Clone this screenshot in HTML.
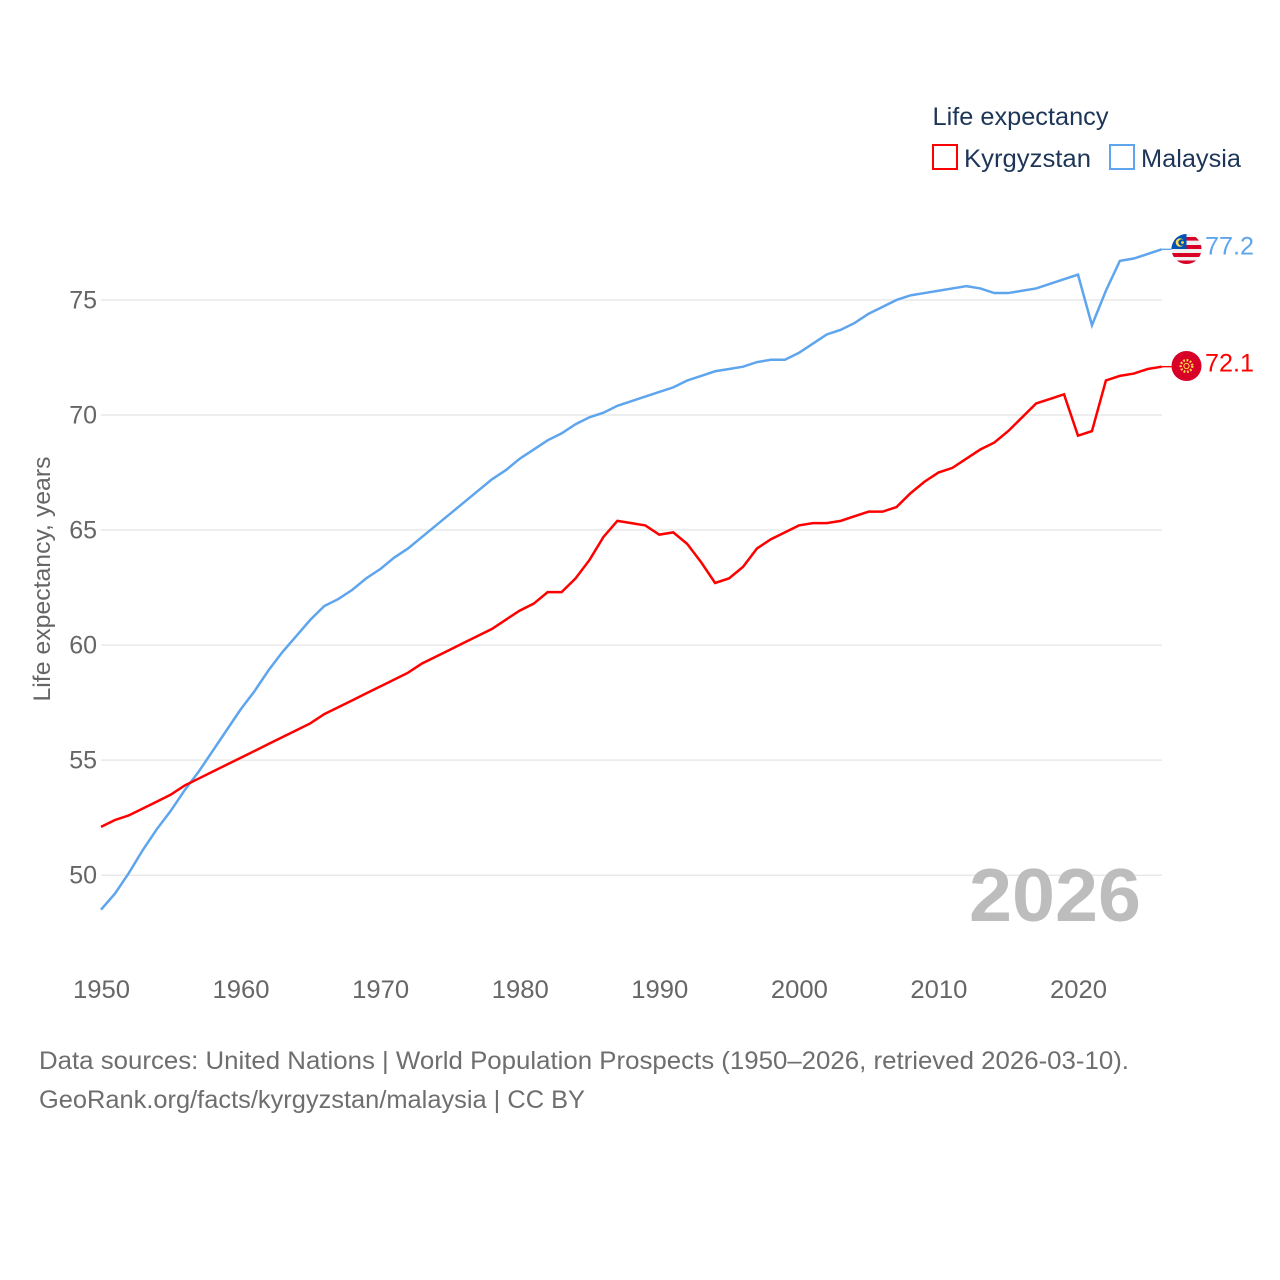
<!DOCTYPE html>
<html lang="en">
<head>
<meta charset="utf-8">
<title>Life expectancy: Kyrgyzstan vs Malaysia</title>
<style>
html,body{margin:0;padding:0;background:#fff}
svg{display:block;font-family:"Liberation Sans",sans-serif}
</style>
</head>
<body>
<svg id="chart" width="1280" height="1280" viewBox="0 0 1280 1280" xmlns="http://www.w3.org/2000/svg">
  <defs>
    <clipPath id="flag-clip-my"><circle cx="1186.5" cy="249" r="15"/></clipPath>
  </defs>
  <g id="grid"></g>
  <g id="yticks"></g>
  <g id="xticks"></g>
  <text x="0" y="0" transform="translate(50,579) rotate(-90)" text-anchor="middle" font-size="24" fill="#666666" textLength="245" lengthAdjust="spacingAndGlyphs">Life expectancy, years</text>
  <text x="969" y="921" font-size="75" font-weight="700" fill="#bdbdbd" textLength="172" lengthAdjust="spacingAndGlyphs">2026</text>
  <g id="series"></g>

  <g clip-path="url(#flag-clip-my)">
    <rect x="1171" y="233" width="31" height="32" fill="#f0f0f0"/>
    <rect x="1171" y="237" width="31" height="3.6" fill="#d80027"/>
    <rect x="1171" y="245" width="31" height="4" fill="#d80027"/>
    <rect x="1171" y="253" width="31" height="4" fill="#d80027"/>
    <rect x="1171" y="260.5" width="31" height="4" fill="#d80027"/>
    <rect x="1171" y="233" width="15.5" height="16" fill="#0052b4"/>
    <circle cx="1180" cy="242.5" r="4.3" fill="#ffda44"/>
    <circle cx="1181.5" cy="242.5" r="3.2" fill="#0052b4"/>
    <circle cx="1182.5" cy="242.5" r="1.4" fill="#ffda44"/>
  </g>
  <g>
    <circle cx="1186.5" cy="366" r="15" fill="#d80027"/>
    <circle cx="1186.5" cy="366" r="5.8" fill="none" stroke="#ffda44" stroke-width="2.4" stroke-dasharray="1.8 1.6"/>
    <circle cx="1186.5" cy="366" r="2.6" fill="none" stroke="#ffda44" stroke-width="1"/>
  </g>
  <g id="end-labels"></g>

  <g>
    <text x="932.5" y="125" font-size="25" fill="#1d3557" textLength="176" lengthAdjust="spacingAndGlyphs">Life expectancy</text>
    <g>
      <rect x="933" y="145" width="24" height="24" fill="none" stroke="#ff0000" stroke-width="2"/>
      <text x="964" y="167" font-size="25" fill="#1d3557" textLength="127" lengthAdjust="spacingAndGlyphs">Kyrgyzstan</text>
    </g>
    <g>
      <rect x="1110" y="145" width="24" height="24" fill="none" stroke="#5ea5ed" stroke-width="2"/>
      <text x="1141" y="167" font-size="25" fill="#1d3557" textLength="100" lengthAdjust="spacingAndGlyphs">Malaysia</text>
    </g>
  </g>

  <text x="39" y="1069" font-size="25" fill="#6e6e6e" textLength="1090" lengthAdjust="spacingAndGlyphs">Data sources: United Nations | World Population Prospects (1950–2026, retrieved 2026-03-10).</text>
  <text x="39" y="1108" font-size="25" fill="#6e6e6e" textLength="546" lengthAdjust="spacingAndGlyphs">GeoRank.org/facts/kyrgyzstan/malaysia | CC BY</text>
</svg>
<script>
const firstYear = 1950;
const kyrgyzstan = [52.1,52.4,52.6,52.9,53.2,53.5,53.9,54.2,54.5,54.8,55.1,55.4,55.7,56.0,56.3,56.6,57.0,57.3,57.6,57.9,58.2,58.5,58.8,59.2,59.5,59.8,60.1,60.4,60.7,61.1,61.5,61.8,62.3,62.3,62.9,63.7,64.7,65.4,65.3,65.2,64.8,64.9,64.4,63.6,62.7,62.9,63.4,64.2,64.6,64.9,65.2,65.3,65.3,65.4,65.6,65.8,65.8,66.0,66.6,67.1,67.5,67.7,68.1,68.5,68.8,69.3,69.9,70.5,70.7,70.9,69.1,69.3,71.5,71.7,71.8,72.0,72.1];
const malaysia = [48.5,49.2,50.1,51.1,52.0,52.8,53.7,54.5,55.4,56.3,57.2,58.0,58.9,59.7,60.4,61.1,61.7,62.0,62.4,62.9,63.3,63.8,64.2,64.7,65.2,65.7,66.2,66.7,67.2,67.6,68.1,68.5,68.9,69.2,69.6,69.9,70.1,70.4,70.6,70.8,71.0,71.2,71.5,71.7,71.9,72.0,72.1,72.3,72.4,72.4,72.7,73.1,73.5,73.7,74.0,74.4,74.7,75.0,75.2,75.3,75.4,75.5,75.6,75.5,75.3,75.3,75.4,75.5,75.7,75.9,76.1,73.9,75.4,76.7,76.8,77.0,77.2];
const yTickValues = [50,55,60,65,70,75];
const xTickValues = [1950,1960,1970,1980,1990,2000,2010,2020];

const NS = 'http://www.w3.org/2000/svg';
const xScale = function (year) { return 101 + (year - 1950) * 13.957; };
const yScale = function (v) { return 875.2 - (v - 50) * 23.01; };

function make(tag, attrs, parent, text) {
  const el = document.createElementNS(NS, tag);
  for (const k in attrs) el.setAttribute(k, attrs[k]);
  if (text !== undefined) el.textContent = text;
  parent.appendChild(el);
  return el;
}

const gridGroup = document.getElementById('grid');
const yGroup = document.getElementById('yticks');
yTickValues.forEach(function (v) {
  const line = make('line', {x1: xScale(1950), x2: 1162, y1: yScale(v), y2: yScale(v), stroke: '#e9e9e9', 'stroke-width': 1.5}, gridGroup);
  
  
  const label = make('text', {x: 97, y: yScale(v) + 8.5, 'text-anchor': 'end', 'font-size': 25, fill: '#666666'}, yGroup, String(v));
  
  
});

const xGroup = document.getElementById('xticks');
xTickValues.forEach(function (y) {
  const label = make('text', {x: xScale(y) + 0.5, y: 998, 'text-anchor': 'middle', 'font-size': 25, fill: '#666666', textLength: 57, lengthAdjust: 'spacingAndGlyphs'}, xGroup, String(y));
  
  
});

function drawSeries(values, color, name) {
  const group = document.getElementById('series');
  const d = values.map(function (v, i) {
    return (i ? 'L' : 'M') + xScale(firstYear + i).toFixed(2) + ' ' + yScale(v).toFixed(2);
  }).join(' ');
  const path = make('path', {d: d, fill: 'none', stroke: color, 'stroke-width': 2.5, 'stroke-linejoin': 'miter'}, group);
  
  

  const last = values[values.length - 1];
  const lastX = xScale(firstYear + values.length - 1);
  const connector = make('line', {x1: lastX, x2: lastX + 10, y1: yScale(last), y2: yScale(last), stroke: color, 'stroke-width': 1.4}, group);
  
  

  const label = make('text', {x: 1205, y: yScale(last) + 5, 'font-size': 25, fill: color, textLength: 49, lengthAdjust: 'spacingAndGlyphs'}, document.getElementById('end-labels'), last.toFixed(1));
  
  
}

drawSeries(malaysia, '#5ea5ed', 'malaysia');
drawSeries(kyrgyzstan, '#ff0000', 'kyrgyzstan');
</script>
</body>
</html>
